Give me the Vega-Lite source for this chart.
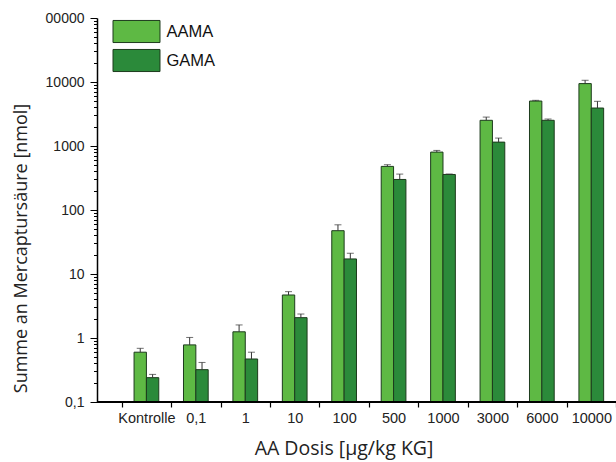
{
  "$schema": "https://vega.github.io/schema/vega-lite/v6.json",
  "width": 519,
  "height": 384,
  "autosize": "none",
  "padding": {"left": 97, "top": 18, "right": 0, "bottom": 60},
  "background": "white",
  "config": {"view": {"stroke": null}, "font": "Liberation Sans"},
  "data": {
    "values": [
      {"dose": "Kontrolle", "series": "AAMA", "value": 0.6, "upper": 0.69},
      {"dose": "Kontrolle", "series": "GAMA", "value": 0.24, "upper": 0.27},
      {"dose": "0,1", "series": "AAMA", "value": 0.78, "upper": 1.02},
      {"dose": "0,1", "series": "GAMA", "value": 0.32, "upper": 0.415},
      {"dose": "1", "series": "AAMA", "value": 1.25, "upper": 1.6},
      {"dose": "1", "series": "GAMA", "value": 0.47, "upper": 0.6},
      {"dose": "10", "series": "AAMA", "value": 4.7, "upper": 5.3},
      {"dose": "10", "series": "GAMA", "value": 2.08, "upper": 2.37},
      {"dose": "100", "series": "AAMA", "value": 47.5, "upper": 58.7},
      {"dose": "100", "series": "GAMA", "value": 17.2, "upper": 21.1},
      {"dose": "500", "series": "AAMA", "value": 480, "upper": 510},
      {"dose": "500", "series": "GAMA", "value": 300, "upper": 364},
      {"dose": "1000", "series": "AAMA", "value": 803, "upper": 853},
      {"dose": "1000", "series": "GAMA", "value": 359, "upper": 365},
      {"dose": "3000", "series": "AAMA", "value": 2520, "upper": 2830},
      {"dose": "3000", "series": "GAMA", "value": 1150, "upper": 1330},
      {"dose": "6000", "series": "AAMA", "value": 5040, "upper": 5170},
      {"dose": "6000", "series": "GAMA", "value": 2520, "upper": 2640},
      {"dose": "10000", "series": "AAMA", "value": 9440, "upper": 10640},
      {"dose": "10000", "series": "GAMA", "value": 3920, "upper": 4990}
    ]
  },
  "layer": [
    {
      "mark": {"type": "bar", "stroke": "#1d3b1d", "strokeWidth": 1},
      "encoding": {
        "x": {
          "field": "dose", "type": "nominal", "sort": null,
          "scale": {
            "domain": ["Kontrolle", "0,1", "1", "10", "100", "500", "1000", "3000", "6000", "10000"],
            "range": [24.7, 519], "paddingInner": 0, "paddingOuter": 0
          },
          "axis": {
            "title": "AA Dosis [µg/kg KG]",
            "tickBand": "extent",
            "labelAngle": 0,
            "domain": false,
            "tickColor": "black",
            "tickSize": 5,
            "tickWidth": 1.2,
            "labelFontSize": 14.5,
            "labelColor": "#222",
            "labelPadding": 4,
            "titleFont": "Open Sans",
            "titleFontSize": 19.5,
            "titleFontWeight": "normal",
            "titleColor": "#222",
            "titlePadding": 15,
            "titleX": 246.5,
            "titleAlign": "center"
          }
        },
        "xOffset": {
          "field": "series", "type": "nominal",
          "scale": {"domain": ["AAMA", "GAMA"], "paddingInner": 0, "paddingOuter": 1}
        },
        "y": {
          "field": "value", "type": "quantitative", "stack": null,
          "scale": {"type": "log", "domain": [0.1, 100000], "nice": false},
          "axis": {
            "title": "Summe an Mercaptursäure [nmol]",
            "values": [0.1, 0.2, 0.3, 0.4, 0.5, 0.6, 0.7, 0.8, 0.9, 1, 2, 3, 4, 5, 6, 7, 8, 9, 10, 20, 30, 40, 50, 60, 70, 80, 90, 100, 200, 300, 400, 500, 600, 700, 800, 900, 1000, 2000, 3000, 4000, 5000, 6000, 7000, 8000, 9000, 10000, 20000, 30000, 40000, 50000, 60000, 70000, 80000, 90000, 100000],
            "labelExpr": "datum.value == 100000 ? '00000' : datum.value == 0.1 ? '0,1' : indexof([1, 10, 100, 1000, 10000], datum.value) >= 0 ? format(datum.value, 'd') : ''",
            "tickSize": {"condition": {"test": "indexof([0.1, 1, 10, 100, 1000, 10000, 100000], datum.value) >= 0", "value": 7}, "value": 3.5},
            "tickColor": "black",
            "domainColor": "black",
            "domainWidth": 1.5,
            "labelFontSize": 14,
            "labelColor": "#222",
            "labelPadding": 6,
            "labelFlush": false,
            "labelOverlap": false,
            "grid": false,
            "titleFont": "Open Sans",
            "titleFontSize": 18,
            "titleFontWeight": "normal",
            "titleColor": "#222",
            "titleX": -76,
            "titleY": 230,
            "titleAngle": 270,
            "titleBaseline": "middle"
          }
        },
        "color": {
          "field": "series", "type": "nominal",
          "scale": {"domain": ["AAMA", "GAMA"], "range": ["#5eb944", "#2b8a3a"]},
          "legend": {
            "title": null,
            "orient": "none",
            "legendX": 27,
            "legendY": 1,
            "padding": 0,
            "symbolType": "M-2,-0.94H2V0.94H-2Z",
            "symbolSize": 552,
            "symbolStrokeColor": "#1d3b1d",
            "symbolStrokeWidth": 1,
            "symbolOpacity": 1,
            "labelFontSize": 16.5,
            "labelColor": "#111",
            "labelOffset": 17.5,
            "rowPadding": 2
          }
        }
      }
    },
    {
      "mark": {"type": "rule", "color": "#333", "strokeWidth": 1},
      "encoding": {
        "x": {"field": "dose", "type": "nominal", "sort": null},
        "xOffset": {"field": "series", "type": "nominal"},
        "y": {"field": "value", "type": "quantitative"},
        "y2": {"field": "upper"}
      }
    },
    {
      "mark": {"type": "tick", "color": "#333", "thickness": 1, "size": 7},
      "encoding": {
        "x": {"field": "dose", "type": "nominal", "sort": null},
        "xOffset": {"field": "series", "type": "nominal"},
        "y": {"field": "upper", "type": "quantitative"}
      }
    },
    {
      "mark": {"type": "rule", "color": "black", "strokeWidth": 1.5},
      "encoding": {"y": {"datum": 0.1}}
    }
  ]
}
